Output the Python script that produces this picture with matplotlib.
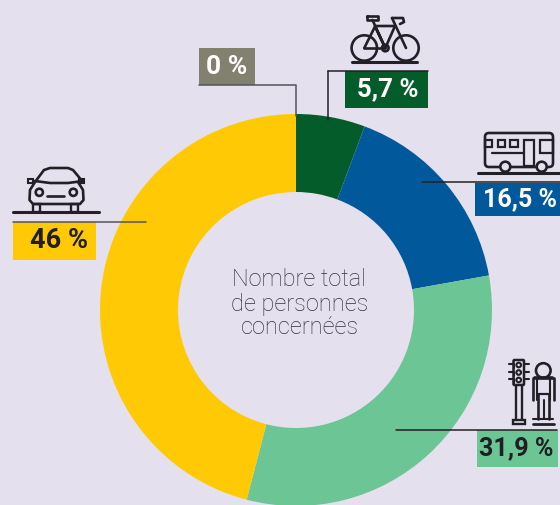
import matplotlib
matplotlib.use("Agg")
import matplotlib.pyplot as plt
from matplotlib.patches import Circle, Rectangle, FancyBboxPatch

W, H = 560, 505

# values clockwise from the top
categories = ["Vélo", "Transports en commun", "Marche", "Voiture", "Autre"]
values = [5.7, 16.5, 31.9, 46, 0]
colors = ["#045C2B", "#01589B", "#6CC594", "#FFCA05", "#82816F"]
labels = ["5,7 %", "16,5 %", "31,9 %", "46 %", "0 %"]
center_lines = ["Nombre total", "de personnes", "concernées"]

BG = "#E4E0EE"
INK = "#231F26"

plt.rcParams['font.family'] = ['Roboto', 'DejaVu Sans']

fig = plt.figure(figsize=(W / 100, H / 100), dpi=100, facecolor=BG)
ax = fig.add_axes([0, 0, 1, 1])
ax.set_xlim(0, W)
ax.set_ylim(0, H)
ax.axis('off')


def Y(y):
    # picture y (from the top) to axes y
    return H - y


def line(xs, ys, lw=1.9, color=INK, z=6):
    ax.plot(xs, [Y(v) for v in ys], color=color, lw=lw, solid_capstyle='round',
            solid_joinstyle='round', zorder=z, clip_on=False)


def ring(x, y, r, lw=1.9):
    ax.add_patch(Circle((x, Y(y)), r, fill=False, ec=INK, lw=lw, zorder=6))


def box(x0, y0, x1, y1, lw=1.9, round_=0):
    if round_:
        ax.add_patch(FancyBboxPatch((x0 + round_, Y(y1) + round_), x1 - x0 - 2 * round_, y1 - y0 - 2 * round_,
                                    boxstyle=f"round,pad={round_},rounding_size={round_}",
                                    fill=False, ec=INK, lw=lw, zorder=6))
    else:
        ax.add_patch(Rectangle((x0, Y(y1)), x1 - x0, y1 - y0, fill=False, ec=INK, lw=lw, zorder=6))


def tag(x0, y0, x1, y1, text, bg, fg, size, tx):
    ax.add_patch(Rectangle((x0, Y(y1)), x1 - x0, y1 - y0, fc=bg, ec='none', zorder=3))
    ax.text(tx, Y((y0 + y1) / 2), text, color=fg, fontsize=size, fontweight='bold',
            ha='center', va='center', zorder=7)


ax.pie(values, colors=colors, startangle=90, counterclock=False, center=(296, Y(310)), radius=196,
       frame=False, wedgeprops=dict(width=78, linewidth=0), normalize=True)
ax.set_xlim(0, W)
ax.set_ylim(0, H)
ax.set_aspect('auto')

for txt, yy in zip(center_lines, [280, 304, 328]):
    ax.text(299.5, Y(yy), txt, ha='center', va='center', fontsize=17, color="#34323A",
            fontweight='light', zorder=7)

# tags and their leader lines
tag(199, 48, 255, 85, labels[4], colors[4], "white", 19, 227)
line([199, 296, 296], [85, 85, 116], lw=1.1, color="#55535A")
tag(345, 71, 428, 108, labels[0], colors[0], "white", 18.5, 387.5)
line([328, 428], [71, 71], lw=1.1)
line([328, 328], [71, 120], lw=1.1)
tag(475, 183, 560, 216, labels[1], colors[1], "white", 18, 520)
line([422, 560], [182, 182], lw=1.1)
tag(477, 430, 558, 467, labels[2], colors[2], "#1F1F24", 18.2, 516.5)
line([396, 557], [430, 430], lw=1.1)
tag(13, 222, 96, 260, labels[3], colors[3], "#1F1F24", 19.5, 59)
line([13, 146], [222, 222], lw=1.1, color="#55535A")

# bike icon
line([352, 417], [62.3, 62.3], lw=2.2)
ring(364.3, 48, 12.7)
ring(406, 48, 12.7)
ring(385.3, 48, 3.3)
line([364.3, 385.3], [48, 48])
line([364.3, 375, 385.3, 372.5], [48, 26.5, 48, 20])
line([375, 395, 385.3], [26, 26, 48])
line([392, 406], [18, 48])
line([367, 378, 378, 367, 367], [16, 16, 20, 20, 16])
line([392, 403, 404, 400], [18, 18, 22, 24])

# bus icon
line([478, 560], [173, 173], lw=2.2)
box(485, 133, 553, 167, round_=4)
for x0, x1 in [(485, 492), (497.5, 505), (510, 518)]:
    box(x0, 140, x1, 147, lw=1.6)
box(524, 140, 534, 166, lw=1.6)
box(539.5, 140, 553, 153, lw=1.6)
line([492, 524], [153, 153], lw=1.6)
for cx in [505.3, 541.7]:
    ax.add_patch(Circle((cx, Y(166.7)), 5, fc=BG, ec=INK, lw=1.9, zorder=7))

# car icon
line([13, 99], [212.3, 212.3], lw=2.2)
line([35, 44, 50, 68, 73, 83], [182, 170, 168, 168, 170, 182])
line([35, 50, 68, 83], [181, 183, 183, 181])
line([35, 30, 29.5, 33, 80, 83.5, 83, 78], [182, 190, 200, 204, 204, 200, 190, 182])
ring(39.3, 192.3, 3.6)
ring(73.3, 192.3, 3.6)
line([47, 64], [195.5, 195.5])
box(33, 204, 40, 212, lw=1.7)
box(71, 204, 78, 212, lw=1.7)
box(28, 179, 33, 182.5, lw=1.5)
box(79, 179, 83.5, 182.5, lw=1.5)

# traffic light and pedestrian icon
box(513.5, 360, 524, 385, lw=1.8, round_=1)
for cy in [365, 372.5, 380]:
    ring(518.7, cy, 2.3, lw=1.5)
line([509, 513.5, 513.5], [364, 364, 368], lw=1.5)
line([509, 513.5, 513.5], [371.5, 371.5, 375.5], lw=1.5)
line([509, 513.5, 513.5], [379, 379, 383], lw=1.5)
line([529, 524, 524], [364, 364, 368], lw=1.5)
line([529, 524, 524], [371.5, 371.5, 375.5], lw=1.5)
line([529, 524, 524], [379, 379, 383], lw=1.5)
line([516, 516], [385, 420], lw=1.7)
line([521.5, 521.5], [385, 420], lw=1.7)
box(513, 420, 525, 424, lw=1.7)
ring(543.3, 370.5, 7.3)
line([534, 552], [377, 377])
line([533, 533, 553.5, 553.5], [400, 377.5, 377.5, 400])
line([537, 537, 550, 550], [400, 378, 378, 400], lw=1.5)
line([537, 550], [394, 394], lw=1.6)
line([538, 538], [394, 419])
line([549, 549], [394, 419])
line([543.5, 543.5], [400, 419], lw=1.5)
line([533, 553], [419, 419], lw=1.5)
line([533, 554], [424, 424], lw=2)

fig.savefig("out.png", dpi=100, facecolor=BG)
